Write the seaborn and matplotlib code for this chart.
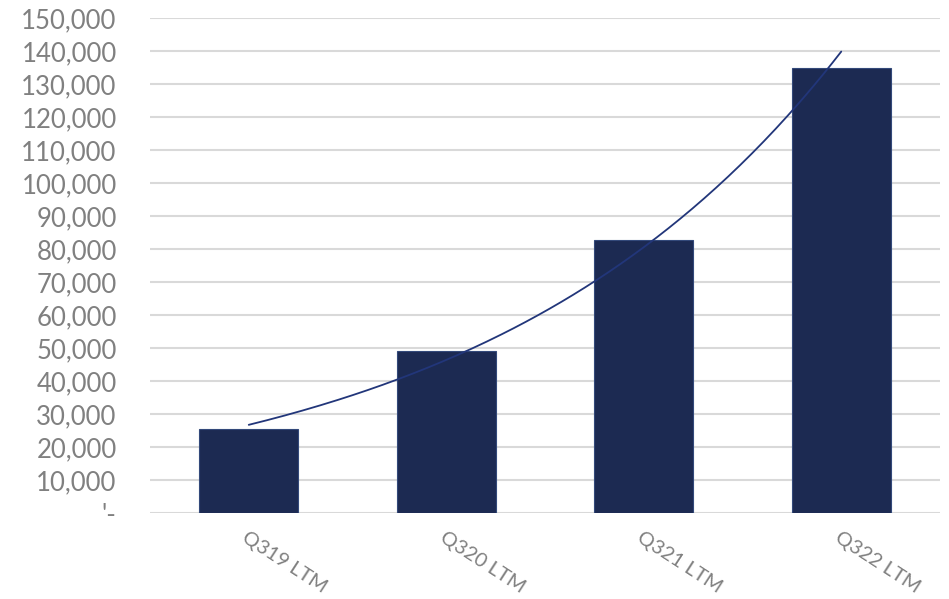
import numpy as np
import pandas as pd
import matplotlib
matplotlib.use("Agg")
import matplotlib.pyplot as plt
import seaborn as sns

categories = ["Q319 LTM", "Q320 LTM", "Q321 LTM", "Q322 LTM"]
values = [25500, 49100, 82700, 134800]
ytick_values = list(range(0, 150001, 10000))
ytick_labels = ["'-"] + [f"{v:,}" for v in ytick_values[1:]]

sns.set_theme(style="white")
plt.rcParams['font.family'] = ['Lato', 'DejaVu Sans']

fig = plt.figure(figsize=(9.49, 5.99), dpi=100)
ax = fig.add_axes([150/949, 1 - 513/599, 790/949, 495/599])

df = pd.DataFrame({"cat": categories, "val": values})
sns.barplot(data=df, x="cat", y="val", color="#1c2a52", width=0.5,
            edgecolor="#33497a", linewidth=0.8, saturation=1, ax=ax, zorder=2)

# exponential trendline (least squares fit on log values, as Excel does)
xpos = np.arange(len(values))
b, a = np.polyfit(xpos, np.log(values), 1)
xs = np.linspace(0, len(values) - 1, 200)
ax.plot(xs, np.exp(a + b * xs), color="#22367a", linewidth=1.3, zorder=3)

ax.set_xlim(-0.5, 3.5)
ax.set_ylim(0, 150000)
ax.set_yticks(ytick_values)
ax.set_yticklabels(ytick_labels)
ax.yaxis.grid(True, color="#d9d9d9", linewidth=1.5, zorder=0)
ax.set_axisbelow(True)
for s in ax.spines.values():
    s.set_visible(False)
ax.set_xlabel("")
ax.set_ylabel("")
ax.tick_params(axis="y", length=0, pad=24, labelsize=18.5, labelcolor="#808080")
ax.tick_params(axis="x", length=0, pad=11, labelsize=14.5, labelcolor="#808080")
for lbl in ax.get_xticklabels():
    lbl.set_rotation(-33)
    lbl.set_ha("left")
    lbl.set_va("top")
    lbl.set_rotation_mode("anchor")

fig.savefig("out.png", dpi=100)
